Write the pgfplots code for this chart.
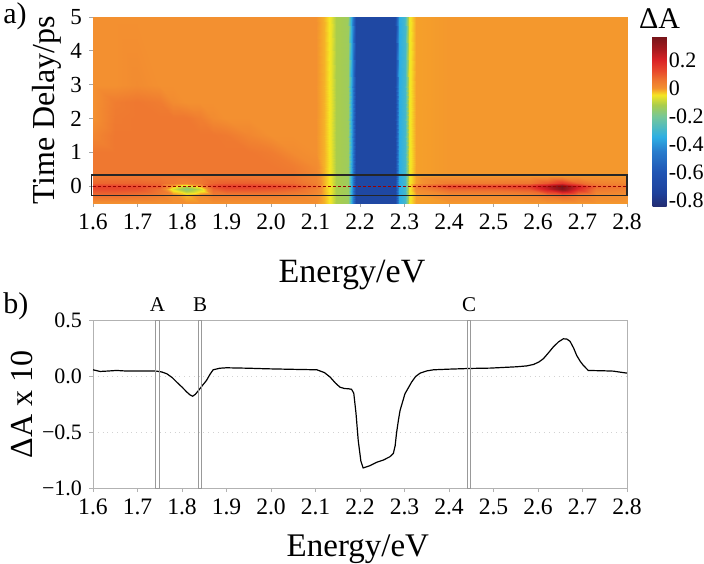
\documentclass[border=0pt]{standalone}
\usepackage{pgfplots}
\pgfplotsset{compat=1.18}
\usepackage{pgfplotstable}
\usepackage{fontspec}
\setmainfont{Liberation Serif}

% transient absorption map: energy (eV), delay (ps), dA
\pgfplotstableread[row sep=\\]{
x y c \\
1.60 -0.5 0 \\ 1.65 -0.5 0 \\ 1.70 -0.5 0 \\ 1.75 -0.5 0 \\ 1.78 -0.5 0 \\ 1.81 -0.5 0 \\ 1.84 -0.5 0 \\ 1.87 -0.5 0 \\ 1.90 -0.5 0 \\ 1.95 -0.5 0 \\ 2.00 -0.5 0 \\ 2.05 -0.5 0 \\ 2.10 -0.5 0 \\
2.12 -0.5 -0.02 \\ 2.135 -0.5 -0.06 \\ 2.145 -0.5 -0.12 \\ 2.172 -0.5 -0.14 \\ 2.182 -0.5 -0.40 \\ 2.192 -0.5 -0.70 \\ 2.278 -0.5 -0.70 \\ 2.288 -0.5 -0.36 \\ 2.30 -0.5 -0.30 \\ 2.31 -0.5 -0.06 \\ 2.325 -0.5 -0.01 \\
2.40 -0.5 -0.005 \\ 2.50 -0.5 -0.005 \\ 2.58 -0.5 -0.005 \\ 2.62 -0.5 -0.005 \\ 2.655 -0.5 -0.005 \\ 2.69 -0.5 -0.005 \\ 2.73 -0.5 -0.005 \\ 2.80 -0.5 -0.005 \\
1.60 -0.25 0.07 \\ 1.65 -0.25 0.07 \\ 1.70 -0.25 0.06 \\ 1.75 -0.25 0.04 \\ 1.78 -0.25 0.01 \\ 1.81 -0.25 -0.02 \\ 1.84 -0.25 0.01 \\ 1.87 -0.25 0.04 \\ 1.90 -0.25 0.04 \\ 1.95 -0.25 0.04 \\ 2.00 -0.25 0.04 \\ 2.05 -0.25 0.03 \\ 2.10 -0.25 0.01 \\
2.12 -0.25 -0.02 \\ 2.135 -0.25 -0.06 \\ 2.145 -0.25 -0.12 \\ 2.172 -0.25 -0.14 \\ 2.182 -0.25 -0.40 \\ 2.192 -0.25 -0.70 \\ 2.278 -0.25 -0.70 \\ 2.288 -0.25 -0.36 \\ 2.30 -0.25 -0.30 \\ 2.31 -0.25 -0.06 \\ 2.325 -0.25 -0.01 \\
2.40 -0.25 0.01 \\ 2.50 -0.25 0.01 \\ 2.58 -0.25 0.02 \\ 2.62 -0.25 0.05 \\ 2.655 -0.25 0.08 \\ 2.69 -0.25 0.04 \\ 2.73 -0.25 0.01 \\ 2.80 -0.25 0 \\
1.60 -0.1 0.12 \\ 1.65 -0.1 0.12 \\ 1.70 -0.1 0.11 \\ 1.75 -0.1 0.06 \\ 1.78 -0.1 -0.07 \\ 1.81 -0.1 -0.17 \\ 1.84 -0.1 -0.09 \\ 1.87 -0.1 0.08 \\ 1.90 -0.1 0.11 \\ 1.95 -0.1 0.11 \\ 2.00 -0.1 0.10 \\ 2.05 -0.1 0.08 \\ 2.10 -0.1 0.03 \\
2.12 -0.1 -0.02 \\ 2.135 -0.1 -0.06 \\ 2.145 -0.1 -0.12 \\ 2.172 -0.1 -0.14 \\ 2.182 -0.1 -0.40 \\ 2.192 -0.1 -0.70 \\ 2.278 -0.1 -0.70 \\ 2.288 -0.1 -0.36 \\ 2.30 -0.1 -0.30 \\ 2.31 -0.1 -0.06 \\ 2.325 -0.1 0.01 \\
2.40 -0.1 0.08 \\ 2.50 -0.1 0.08 \\ 2.58 -0.1 0.10 \\ 2.62 -0.1 0.22 \\ 2.655 -0.1 0.34 \\ 2.69 -0.1 0.18 \\ 2.73 -0.1 0.05 \\ 2.80 -0.1 0.03 \\
1.60 0 0.14 \\ 1.65 0 0.14 \\ 1.70 0 0.13 \\ 1.75 0 0.10 \\ 1.78 0 -0.02 \\ 1.81 0 -0.10 \\ 1.84 0 -0.02 \\ 1.87 0 0.12 \\ 1.90 0 0.15 \\ 1.95 0 0.15 \\ 2.00 0 0.14 \\ 2.05 0 0.12 \\ 2.10 0 0.06 \\
2.12 0 -0.02 \\ 2.135 0 -0.06 \\ 2.145 0 -0.12 \\ 2.172 0 -0.14 \\ 2.182 0 -0.40 \\ 2.192 0 -0.70 \\ 2.278 0 -0.70 \\ 2.288 0 -0.36 \\ 2.30 0 -0.30 \\ 2.31 0 -0.06 \\ 2.325 0 0.04 \\
2.40 0 0.14 \\ 2.50 0 0.14 \\ 2.58 0 0.16 \\ 2.62 0 0.26 \\ 2.655 0 0.37 \\ 2.69 0 0.22 \\ 2.73 0 0.08 \\ 2.80 0 0.05 \\
1.60 0.1 0.08 \\ 1.65 0.1 0.08 \\ 1.70 0.1 0.08 \\ 1.75 0.1 0.07 \\ 1.78 0.1 0.05 \\ 1.81 0.1 0.03 \\ 1.84 0.1 0.05 \\ 1.87 0.1 0.08 \\ 1.90 0.1 0.09 \\ 1.95 0.1 0.09 \\ 2.00 0.1 0.08 \\ 2.05 0.1 0.07 \\ 2.10 0.1 0.03 \\
2.12 0.1 -0.02 \\ 2.135 0.1 -0.06 \\ 2.145 0.1 -0.12 \\ 2.172 0.1 -0.14 \\ 2.182 0.1 -0.40 \\ 2.192 0.1 -0.70 \\ 2.278 0.1 -0.70 \\ 2.288 0.1 -0.36 \\ 2.30 0.1 -0.30 \\ 2.31 0.1 -0.06 \\ 2.325 0.1 -0.01 \\
2.40 0.1 0.04 \\ 2.50 0.1 0.04 \\ 2.58 0.1 0.05 \\ 2.62 0.1 0.10 \\ 2.655 0.1 0.16 \\ 2.69 0.1 0.08 \\ 2.73 0.1 0.03 \\ 2.80 0.1 0.02 \\
1.60 0.3 0.05 \\ 1.65 0.3 0.05 \\ 1.70 0.3 0.05 \\ 1.75 0.3 0.05 \\ 1.78 0.3 0.05 \\ 1.81 0.3 0.05 \\ 1.84 0.3 0.05 \\ 1.87 0.3 0.05 \\ 1.90 0.3 0.05 \\ 1.95 0.3 0.05 \\ 2.00 0.3 0.05 \\ 2.05 0.3 0.05 \\ 2.10 0.3 0.02 \\
2.12 0.3 -0.02 \\ 2.135 0.3 -0.06 \\ 2.145 0.3 -0.12 \\ 2.172 0.3 -0.14 \\ 2.182 0.3 -0.40 \\ 2.192 0.3 -0.70 \\ 2.278 0.3 -0.70 \\ 2.288 0.3 -0.36 \\ 2.30 0.3 -0.30 \\ 2.31 0.3 -0.06 \\ 2.325 0.3 -0.01 \\
2.40 0.3 -0.005 \\ 2.50 0.3 -0.005 \\ 2.58 0.3 -0.005 \\ 2.62 0.3 -0.005 \\ 2.655 0.3 -0.005 \\ 2.69 0.3 -0.005 \\ 2.73 0.3 -0.005 \\ 2.80 0.3 -0.005 \\
1.60 0.6 0.05 \\ 1.65 0.6 0.05 \\ 1.70 0.6 0.05 \\ 1.75 0.6 0.05 \\ 1.78 0.6 0.05 \\ 1.81 0.6 0.05 \\ 1.84 0.6 0.05 \\ 1.87 0.6 0.05 \\ 1.90 0.6 0.05 \\ 1.95 0.6 0.05 \\ 2.00 0.6 0.05 \\ 2.05 0.6 0.04 \\ 2.10 0.6 0.01 \\
2.12 0.6 -0.02 \\ 2.135 0.6 -0.06 \\ 2.145 0.6 -0.12 \\ 2.172 0.6 -0.14 \\ 2.182 0.6 -0.40 \\ 2.192 0.6 -0.70 \\ 2.278 0.6 -0.70 \\ 2.288 0.6 -0.36 \\ 2.30 0.6 -0.30 \\ 2.31 0.6 -0.06 \\ 2.325 0.6 -0.01 \\
2.40 0.6 -0.005 \\ 2.50 0.6 -0.005 \\ 2.58 0.6 -0.005 \\ 2.62 0.6 -0.005 \\ 2.655 0.6 -0.005 \\ 2.69 0.6 -0.005 \\ 2.73 0.6 -0.005 \\ 2.80 0.6 -0.005 \\
1.60 1.0 0.05 \\ 1.65 1.0 0.05 \\ 1.70 1.0 0.05 \\ 1.75 1.0 0.05 \\ 1.78 1.0 0.05 \\ 1.81 1.0 0.05 \\ 1.84 1.0 0.05 \\ 1.87 1.0 0.05 \\ 1.90 1.0 0.05 \\ 1.95 1.0 0.05 \\ 2.00 1.0 0.04 \\ 2.05 1.0 0.01 \\ 2.10 1.0 0 \\
2.12 1.0 -0.02 \\ 2.135 1.0 -0.06 \\ 2.145 1.0 -0.12 \\ 2.172 1.0 -0.14 \\ 2.182 1.0 -0.40 \\ 2.192 1.0 -0.70 \\ 2.278 1.0 -0.70 \\ 2.288 1.0 -0.36 \\ 2.30 1.0 -0.30 \\ 2.31 1.0 -0.06 \\ 2.325 1.0 -0.01 \\
2.40 1.0 -0.005 \\ 2.50 1.0 -0.005 \\ 2.58 1.0 -0.005 \\ 2.62 1.0 -0.005 \\ 2.655 1.0 -0.005 \\ 2.69 1.0 -0.005 \\ 2.73 1.0 -0.005 \\ 2.80 1.0 -0.005 \\
1.60 1.5 0.02 \\ 1.65 1.5 0.05 \\ 1.70 1.5 0.05 \\ 1.75 1.5 0.05 \\ 1.78 1.5 0.05 \\ 1.81 1.5 0.05 \\ 1.84 1.5 0.05 \\ 1.87 1.5 0.05 \\ 1.90 1.5 0.045 \\ 1.95 1.5 0.02 \\ 2.00 1.5 0 \\ 2.05 1.5 0 \\ 2.10 1.5 0 \\
2.12 1.5 -0.02 \\ 2.135 1.5 -0.06 \\ 2.145 1.5 -0.12 \\ 2.172 1.5 -0.14 \\ 2.182 1.5 -0.40 \\ 2.192 1.5 -0.70 \\ 2.278 1.5 -0.70 \\ 2.288 1.5 -0.36 \\ 2.30 1.5 -0.30 \\ 2.31 1.5 -0.06 \\ 2.325 1.5 -0.01 \\
2.40 1.5 -0.005 \\ 2.50 1.5 -0.005 \\ 2.58 1.5 -0.005 \\ 2.62 1.5 -0.005 \\ 2.655 1.5 -0.005 \\ 2.69 1.5 -0.005 \\ 2.73 1.5 -0.005 \\ 2.80 1.5 -0.005 \\
1.60 2.0 0 \\ 1.65 2.0 0.045 \\ 1.70 2.0 0.05 \\ 1.75 2.0 0.05 \\ 1.78 2.0 0.05 \\ 1.81 2.0 0.05 \\ 1.84 2.0 0.035 \\ 1.87 2.0 0.01 \\ 1.90 2.0 0 \\ 1.95 2.0 0 \\ 2.00 2.0 0 \\ 2.05 2.0 0 \\ 2.10 2.0 0 \\
2.12 2.0 -0.02 \\ 2.135 2.0 -0.06 \\ 2.145 2.0 -0.12 \\ 2.172 2.0 -0.14 \\ 2.182 2.0 -0.40 \\ 2.192 2.0 -0.70 \\ 2.278 2.0 -0.70 \\ 2.288 2.0 -0.36 \\ 2.30 2.0 -0.30 \\ 2.31 2.0 -0.06 \\ 2.325 2.0 -0.01 \\
2.40 2.0 -0.005 \\ 2.50 2.0 -0.005 \\ 2.58 2.0 -0.005 \\ 2.62 2.0 -0.005 \\ 2.655 2.0 -0.005 \\ 2.69 2.0 -0.005 \\ 2.73 2.0 -0.005 \\ 2.80 2.0 -0.005 \\
1.60 2.5 0 \\ 1.65 2.5 0.04 \\ 1.70 2.5 0.05 \\ 1.75 2.5 0.04 \\ 1.78 2.5 0.01 \\ 1.81 2.5 0 \\ 1.84 2.5 0 \\ 1.87 2.5 0 \\ 1.90 2.5 0 \\ 1.95 2.5 0 \\ 2.00 2.5 0 \\ 2.05 2.5 0 \\ 2.10 2.5 0 \\
2.12 2.5 -0.02 \\ 2.135 2.5 -0.06 \\ 2.145 2.5 -0.12 \\ 2.172 2.5 -0.14 \\ 2.182 2.5 -0.40 \\ 2.192 2.5 -0.70 \\ 2.278 2.5 -0.70 \\ 2.288 2.5 -0.36 \\ 2.30 2.5 -0.30 \\ 2.31 2.5 -0.06 \\ 2.325 2.5 -0.01 \\
2.40 2.5 -0.005 \\ 2.50 2.5 -0.005 \\ 2.58 2.5 -0.005 \\ 2.62 2.5 -0.005 \\ 2.655 2.5 -0.005 \\ 2.69 2.5 -0.005 \\ 2.73 2.5 -0.005 \\ 2.80 2.5 -0.005 \\
1.60 3.0 0 \\ 1.65 3.0 0 \\ 1.70 3.0 0.01 \\ 1.75 3.0 0 \\ 1.78 3.0 0 \\ 1.81 3.0 0 \\ 1.84 3.0 0 \\ 1.87 3.0 0 \\ 1.90 3.0 0 \\ 1.95 3.0 0 \\ 2.00 3.0 0 \\ 2.05 3.0 0 \\ 2.10 3.0 0 \\
2.12 3.0 -0.02 \\ 2.135 3.0 -0.06 \\ 2.145 3.0 -0.12 \\ 2.172 3.0 -0.14 \\ 2.182 3.0 -0.40 \\ 2.192 3.0 -0.70 \\ 2.278 3.0 -0.70 \\ 2.288 3.0 -0.36 \\ 2.30 3.0 -0.30 \\ 2.31 3.0 -0.06 \\ 2.325 3.0 -0.01 \\
2.40 3.0 -0.005 \\ 2.50 3.0 -0.005 \\ 2.58 3.0 -0.005 \\ 2.62 3.0 -0.005 \\ 2.655 3.0 -0.005 \\ 2.69 3.0 -0.005 \\ 2.73 3.0 -0.005 \\ 2.80 3.0 -0.005 \\
1.60 5.0 0 \\ 1.65 5.0 0 \\ 1.70 5.0 0 \\ 1.75 5.0 0 \\ 1.78 5.0 0 \\ 1.81 5.0 0 \\ 1.84 5.0 0 \\ 1.87 5.0 0 \\ 1.90 5.0 0 \\ 1.95 5.0 0 \\ 2.00 5.0 0 \\ 2.05 5.0 0 \\ 2.10 5.0 0 \\
2.12 5.0 -0.02 \\ 2.135 5.0 -0.06 \\ 2.145 5.0 -0.12 \\ 2.172 5.0 -0.14 \\ 2.182 5.0 -0.40 \\ 2.192 5.0 -0.70 \\ 2.278 5.0 -0.70 \\ 2.288 5.0 -0.36 \\ 2.30 5.0 -0.30 \\ 2.31 5.0 -0.06 \\ 2.325 5.0 -0.01 \\
2.40 5.0 -0.005 \\ 2.50 5.0 -0.005 \\ 2.58 5.0 -0.005 \\ 2.62 5.0 -0.005 \\ 2.655 5.0 -0.005 \\ 2.69 5.0 -0.005 \\ 2.73 5.0 -0.005 \\ 2.80 5.0 -0.005 \\
}\heat

\pgfplotsset{
  colormap={dA}{
    rgb255(0pt)=(35,45,115)
    rgb255(93pt)=(30,65,155)
    rgb255(243pt)=(32,85,180)
    rgb255(393pt)=(40,125,205)
    rgb255(493pt)=(45,175,228)
    rgb255(643pt)=(120,200,150)
    rgb255(723pt)=(170,205,75)
    rgb255(793pt)=(245,230,35)
    rgb255(833pt)=(245,160,42)
    rgb255(843pt)=(243,144,48)
    rgb255(903pt)=(238,115,48)
    rgb255(963pt)=(232,75,45)
    rgb255(1043pt)=(218,35,38)
    rgb255(1123pt)=(165,25,30)
    rgb255(1214pt)=(115,20,25)
  },
}
\newcommand\tl[1]{\mbox{#1}}

\begin{document}
\begin{tikzpicture}
\useasboundingbox (0,0) rectangle (352pt,-281.5pt);

% a) map
\begin{axis}[
  at={(46.5pt,-8.5pt)}, anchor=north west,
  scale only axis, width=267pt, height=93pt,
  xmin=1.6, xmax=2.8, ymin=-0.5, ymax=5,
  axis line style={draw=none},
  tick align=outside, major tick length=2pt,
  tick style={gray!70, line width=0.4pt},
  xtick pos=bottom, ytick pos=left,
  xtick={1.6,1.7,1.8,1.9,2.0,2.1,2.2,2.3,2.4,2.5,2.6,2.7,2.8},
  xticklabels={\tl{1.6},\tl{1.7},\tl{1.8},\tl{1.9},\tl{2.0},\tl{2.1},\tl{2.2},\tl{2.3},\tl{2.4},\tl{2.5},\tl{2.6},\tl{2.7},\tl{2.8}},
  ytick={0,1,2,3,4,5}, yticklabels={\tl{0},\tl{1},\tl{2},\tl{3},\tl{4},\tl{5}},
  xticklabel style={font=\fontsize{11.8}{13}\selectfont},
  yticklabel style={font=\fontsize{11.5}{13}\selectfont},
  xlabel={Energy/eV}, ylabel={Time Delay/ps},
  xlabel style={at={(axis description cs:0.485,-0.43)}, anchor=base, font=\fontsize{17}{20}\selectfont},
  ylabel style={at={(axis description cs:-0.073,0.5)}, anchor=base, font=\fontsize{16}{19}\selectfont},
  colormap name=dA,
  point meta min=-0.843, point meta max=0.371,
  colorbar,
  colorbar shift/.style={xshift=12.75pt, yshift=-9.5pt},
  colorbar style={
    at={(parent axis.north east)}, anchor=north west,
    scale only axis, width=7pt, height=85pt,
    axis line style={draw=none},
    ytick={-0.8,-0.6,-0.4,-0.2,0,0.2},
    yticklabels={\tl{-0.8},\tl{-0.6},\tl{-0.4},\tl{-0.2},\tl{0},\tl{0.2}},
    major tick length=0pt,
    yticklabel style={font=\fontsize{11}{13}\selectfont, inner sep=1pt},
  },
  clip=false,
]
\addplot[surf, shader=interp, mesh/cols=32, point meta=explicit]
  table[x=x, y=y, meta=c] {\heat};
\draw[black!85, line width=0.75pt] (axis cs:1.597,-0.28) rectangle (axis cs:2.8,0.33);
\draw[red!60!black, line width=0.3pt, dash pattern=on 1.5pt off 1pt] (axis cs:1.6,0) -- (axis cs:2.8,0);
\end{axis}

% b) spectrum at t = 0
\begin{axis}[
  at={(46.5pt,-160.35pt)}, anchor=north west,
  scale only axis, width=267pt, height=83.65pt,
  xmin=1.6, xmax=2.8, ymin=-1, ymax=0.5,
  axis line style={gray!60, line width=0.5pt},
  tick align=outside, major tick length=2pt,
  tick style={gray!60, line width=0.4pt},
  xtick pos=bottom, ytick pos=left,
  xtick={1.6,1.7,1.8,1.9,2.0,2.1,2.2,2.3,2.4,2.5,2.6,2.7,2.8},
  xticklabels={\tl{1.6},\tl{1.7},\tl{1.8},\tl{1.9},\tl{2.0},\tl{2.1},\tl{2.2},\tl{2.3},\tl{2.4},\tl{2.5},\tl{2.6},\tl{2.7},\tl{2.8}},
  ytick={-1,-0.5,0,0.5}, yticklabels={\tl{−1.0},\tl{−0.5},\tl{0.0},\tl{0.5}},
  ymajorgrids, grid style={gray!35, dotted, line width=0.4pt},
  xticklabel style={font=\fontsize{11.8}{13}\selectfont},
  yticklabel style={font=\fontsize{11}{12}\selectfont},
  xlabel={Energy/eV}, ylabel={ΔA x 10},
  xlabel style={at={(axis description cs:0.496,-0.412)}, anchor=base, font=\fontsize{16.5}{19}\selectfont},
  ylabel style={at={(axis description cs:-0.114,0.5)}, anchor=base, font=\fontsize{16}{19}\selectfont},
  clip=false,
]
\addplot[black, line width=0.6pt] coordinates {
  (1.600,0.060) (1.616,0.045) (1.630,0.048) (1.653,0.054) (1.670,0.050) (1.690,0.050)
  (1.720,0.050) (1.743,0.048) (1.755,0.040) (1.766,0.024) (1.778,-0.010) (1.788,-0.050)
  (1.800,-0.095) (1.811,-0.140) (1.818,-0.165) (1.824,-0.177) (1.830,-0.160) (1.837,-0.126)
  (1.846,-0.080) (1.855,-0.036) (1.863,0.020) (1.870,0.060) (1.885,0.074) (1.900,0.078)
  (1.950,0.074) (1.990,0.069) (2.050,0.064) (2.103,0.060) (2.120,0.035) (2.133,-0.006)
  (2.145,-0.060) (2.155,-0.096) (2.165,-0.108) (2.174,-0.110) (2.181,-0.115) (2.186,-0.150)
  (2.191,-0.330) (2.196,-0.574) (2.202,-0.760) (2.207,-0.820) (2.222,-0.800) (2.237,-0.770)
  (2.252,-0.750) (2.267,-0.720) (2.275,-0.690) (2.279,-0.620) (2.282,-0.510) (2.286,-0.400)
  (2.290,-0.305) (2.301,-0.155) (2.316,-0.050) (2.325,0.000) (2.335,0.030) (2.350,0.050)
  (2.365,0.060) (2.402,0.066) (2.447,0.072) (2.492,0.075) (2.552,0.087) (2.575,0.095)
  (2.590,0.108) (2.602,0.130) (2.612,0.159) (2.623,0.210) (2.634,0.263) (2.646,0.310)
  (2.657,0.338) (2.665,0.335) (2.672,0.315) (2.680,0.255) (2.687,0.188) (2.695,0.135)
  (2.702,0.099) (2.713,0.054) (2.747,0.051) (2.769,0.048) (2.800,0.030)
};
\draw[gray!80, line width=0.5pt] (axis cs:1.7415,-1) rectangle (axis cs:1.7485,0.5);
\draw[gray!80, line width=0.5pt] (axis cs:1.8375,-1) rectangle (axis cs:1.8440,0.5);
\draw[gray!80, line width=0.5pt] (axis cs:2.4410,-1) rectangle (axis cs:2.4490,0.5);
\node[anchor=base, yshift=4.4pt, font=\fontsize{10.5}{12}\selectfont] at (axis cs:1.745,0.5) {A};
\node[anchor=base, yshift=4.4pt, font=\fontsize{10.5}{12}\selectfont] at (axis cs:1.841,0.5) {B};
\node[anchor=base, yshift=4.4pt, font=\fontsize{10.5}{12}\selectfont] at (axis cs:2.445,0.5) {C};
\end{axis}

\node[font=\fontsize{15}{18}\selectfont] at (329.75pt,-9.5pt) {ΔA};
\node[anchor=base west, inner sep=0pt, font=\fontsize{15}{18}\selectfont] at (1.5pt,-11.5pt) {a)};
\node[anchor=base west, inner sep=0pt, font=\fontsize{15}{18}\selectfont] at (1.5pt,-156.5pt) {b)};
\end{tikzpicture}
\end{document}
